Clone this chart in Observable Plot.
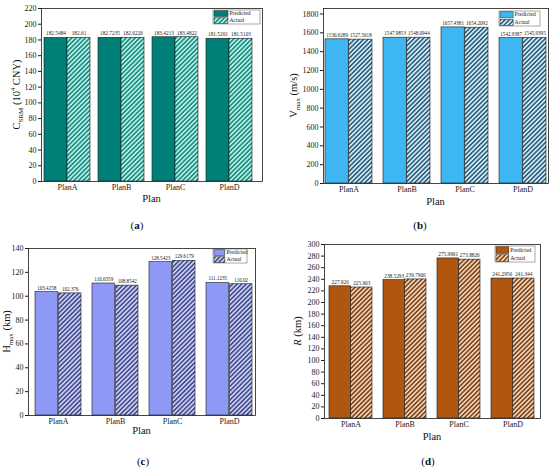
<!DOCTYPE html>
<html><head><meta charset="utf-8">
<script src="https://cdn.jsdelivr.net/npm/d3@7"></script>
<script src="https://cdn.jsdelivr.net/npm/@observablehq/plot@0.6"></script>
<style>
body{margin:0;background:#fff;}
#wrap{position:relative;width:550px;height:471px;font-family:"Liberation Serif",serif;overflow:hidden;}
.panel{position:absolute;}
.cap{position:absolute;font-size:11px;transform:translate(-50%,-50%);color:#111;}
</style></head><body><div id="wrap"></div>
<script>
const plans = ["PlanA", "PlanB", "PlanC", "PlanD"];
const seriesNames = ["Predicted", "Actual"];
const costPred = [182.5484, 182.7235, 183.4213, 181.5201];
const costAct  = [182.61, 182.6226, 183.4822, 181.5103];
const velPred  = [1530.6289, 1547.9853, 1657.4381, 1542.9387];
const velAct   = [1527.5618, 1548.0944, 1654.2092, 1545.9395];
const hPred    = [103.4258, 110.6359, 128.5423, 111.1235];
const hAct     = [102.376, 108.8542, 129.6179, 110.02];
const rPred    = [227.926, 238.5293, 275.9901, 241.2956];
const rAct     = [225.903, 239.7966, 273.8826, 241.344];
const costTicks = d3.range(0, 221, 20);
const velTicks  = d3.range(0, 1801, 200);
const hTicks    = d3.range(0, 141, 20);
const rTicks    = d3.range(0, 301, 20);

const panels = [
  {id:"a", left:0, top:0, width:275, height:212, ml:41, mr:13, mt:8, mb:31,
   pred:costPred, act:costAct, domain:[0,220], ticks:costTicks,
   pi:0.148, po:0.12, align:0.23, vfs:5.3,
   color:"#007f79", hatchBg:"#b2f2e4", hatchFg:"#00736d",
   ylab:[["C",""],["SRM","sub"],[" (10",""],["4","sup"],[" CNY)",""]], ylabX:18, planY:200,
   leg:{w:47,h:14,r:2,t:2}, cap:[137,225]},
  {id:"b", left:275, top:0, width:275, height:212, ml:48, mr:2, mt:8, mb:29,
   pred:velPred, act:velAct, domain:[0,1858], ticks:velTicks,
   pi:0.186, po:0.02, align:0.5, vfs:5.1,
   color:"#3db6f1", hatchBg:"#c4efff", hatchFg:"#1d3a55",
   ylab:[["V",""],["max","sub"],[" (m/s)",""]], ylabX:20, planY:203,
   leg:{w:41,h:15,r:8,t:3}, cap:[145,225]},
  {id:"c", left:0, top:235, width:275, height:212, ml:28, mr:20, mt:13, mb:32,
   pred:hPred, act:hAct, domain:[0,140], ticks:hTicks,
   pi:0.185, po:0.06, align:0.7, vfs:5.1,
   color:"#8e99f6", hatchBg:"#c9cef9", hatchFg:"#283170",
   ylab:[["H",""],["max","sub"],[" (km)",""]], ylabX:8, planY:197,
   leg:{w:34,h:14,r:8,t:1}, cap:[143,226]},
  {id:"d", left:275, top:235, width:275, height:212, ml:49, mr:10, mt:9, mb:29,
   pred:rPred, act:rAct, domain:[0,300], ticks:rTicks,
   pi:0.2, po:0.1, align:0.45, vfs:5.3,
   color:"#b0560f", hatchBg:"#f9d0ad", hatchFg:"#5a2a08",
   ylab:[["R","it"],[" (km)",""]], ylabX:24, planY:203,
   leg:{w:40,h:16,r:5,t:2}, cap:[153,226]}
];

const wrap = document.getElementById("wrap");

function makePanel(cfg) {
  const W = cfg.width - cfg.ml - cfg.mr;
  const n = plans.length;
  const step = W / (n - cfg.pi + 2 * cfg.po);
  const bw = step * (1 - cfg.pi);
  const pred = plans.map((p, i) => ({plan: p, value: cfg.pred[i], series: seriesNames[0]}));
  const act = plans.map((p, i) => ({plan: p, value: cfg.act[i], series: seriesNames[1]}));
  const hatch = `url(#hatch-${cfg.id})`;
  const svg = Plot.plot({
    width: cfg.width, height: cfg.height,
    marginLeft: cfg.ml, marginRight: cfg.mr, marginTop: cfg.mt, marginBottom: cfg.mb,
    style: {fontFamily: "Liberation Serif, serif", fontSize: "8px", color: "#1a1a1a", background: "white", overflow: "visible"},
    x: {domain: plans, paddingInner: cfg.pi, paddingOuter: cfg.po, align: cfg.align, label: null},
    y: {domain: cfg.domain, label: null},
    marks: [
      Plot.barY(pred, {x: "plan", y: "value", fill: cfg.color, stroke: "#1a1a1a", strokeWidth: 0.6, insetRight: bw / 2}),
      Plot.barY(act, {x: "plan", y: "value", fill: hatch, stroke: "#1a1a1a", strokeWidth: 0.6, insetLeft: bw / 2}),
      Plot.text(pred, {x: "plan", y: "value", text: d => String(d.value), dx: -bw / 4, dy: -2.5, lineAnchor: "bottom", fontSize: cfg.vfs, fill: "#222"}),
      Plot.text(act, {x: "plan", y: "value", text: d => String(d.value), dx: bw / 4, dy: -2.5, lineAnchor: "bottom", fontSize: cfg.vfs, fill: "#222"}),
      Plot.axisY({ticks: cfg.ticks, tickSize: 3, tickPadding: 2, tickFormat: d => String(d), label: null, fill: "#1a1a1a"}),
      Plot.axisX({tickSize: 0, tickPadding: 3, label: null, fill: "#1a1a1a"}),
      Plot.frame({stroke: "#1a1a1a", strokeWidth: 0.8})
    ]
  });
  const s = d3.select(svg);
  const defs = s.insert("defs", ":first-child");
  const pat = defs.append("pattern").attr("id", `hatch-${cfg.id}`)
    .attr("patternUnits", "userSpaceOnUse").attr("width", 3.2).attr("height", 3.2)
    .attr("patternTransform", "rotate(45)");
  pat.append("rect").attr("width", 3.2).attr("height", 3.2).attr("fill", cfg.hatchBg);
  pat.append("line").attr("x1", 0.8).attr("y1", 0).attr("x2", 0.8).attr("y2", 3.2)
    .attr("stroke", cfg.hatchFg).attr("stroke-width", 1.3);

  const cy = (cfg.mt + cfg.height - cfg.mb) / 2;
  const yl = s.append("text")
    .attr("transform", `translate(${cfg.ylabX},${cy}) rotate(-90)`)
    .attr("text-anchor", "middle").attr("dominant-baseline", "middle")
    .attr("font-size", 10.5).attr("fill", "#111");
  let shift = 0;
  for (const [t, kind] of cfg.ylab) {
    const ts = yl.append("tspan").text(t);
    let target = 0;
    if (kind === "sub") { ts.attr("font-size", 7); target = 2.5; }
    else if (kind === "sup") { ts.attr("font-size", 6.5); target = -4; }
    else if (kind === "it") { ts.attr("font-style", "italic"); }
    ts.attr("dy", target - shift);
    shift = target;
  }
  s.append("text").attr("x", cfg.ml + W / 2).attr("y", cfg.planY)
    .attr("text-anchor", "middle").attr("dominant-baseline", "middle")
    .attr("font-size", 10.5).attr("fill", "#111").text("Plan");

  const L = cfg.leg;
  const lx = cfg.width - cfg.mr - L.r - L.w, ly = cfg.mt + L.t;
  const g = s.append("g").attr("transform", `translate(${lx},${ly})`).attr("text-anchor", "start");
  g.append("rect").attr("width", L.w).attr("height", L.h).attr("fill", "white").attr("stroke", "#555").attr("stroke-width", 0.5);
  const rowH = L.h / 2;
  const sw = Math.min(14, L.w * 0.32);
  seriesNames.forEach((name, i) => {
    g.append("rect").attr("x", 1).attr("y", i * rowH + 0.8).attr("width", sw).attr("height", rowH - 1.4)
      .attr("fill", i === 0 ? cfg.color : hatch).attr("stroke", "#1a1a1a").attr("stroke-width", 0.5);
    g.append("text").attr("x", sw + 2.5).attr("y", i * rowH + rowH / 2 + 0.3)
      .attr("text-anchor", "start").attr("dominant-baseline", "middle")
      .attr("font-size", 5.6).attr("fill", "#222").text(name);
  });

  const div = document.createElement("div");
  div.className = "panel";
  div.style.left = cfg.left + "px";
  div.style.top = cfg.top + "px";
  div.appendChild(svg);
  wrap.appendChild(div);

  const cap = document.createElement("div");
  cap.className = "cap";
  cap.style.left = (cfg.left + cfg.cap[0]) + "px";
  cap.style.top = (cfg.top + cfg.cap[1]) + "px";
  cap.innerHTML = `(<b>${cfg.id}</b>)`;
  wrap.appendChild(cap);
}
panels.forEach(makePanel);
</script></body></html>
